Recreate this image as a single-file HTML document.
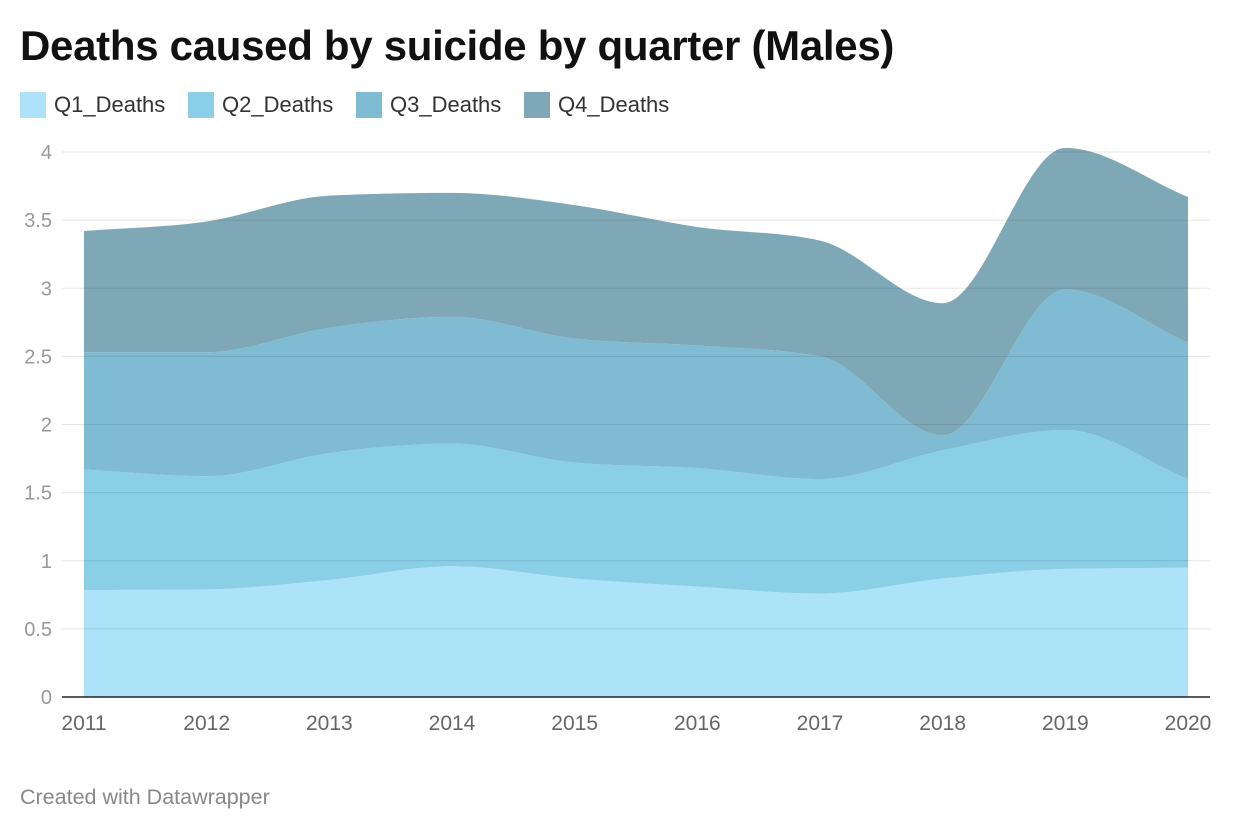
<!DOCTYPE html>
<html><head><meta charset="utf-8"><style>
body{margin:0;background:#fff;font-family:"Liberation Sans",sans-serif;}
#wrap{position:relative;width:1240px;height:840px;}
h1{position:absolute;left:20px;top:22px;margin:0;font-size:42px;font-weight:bold;color:#111;letter-spacing:-0.3px;}
.leg{position:absolute;top:92px;display:flex;align-items:center;font-size:22px;color:#333;}
.sw{width:26px;height:26px;margin-right:8px;}
#foot{position:absolute;left:20px;top:785px;font-size:21.5px;color:#888;}
</style></head><body>
<div id="wrap">
<h1>Deaths caused by suicide by quarter (Males)</h1>
<div class="leg" style="left:20px"><div class="sw" style="background:#ade3f8"></div>Q1_Deaths</div>
<div class="leg" style="left:188px"><div class="sw" style="background:#8acfe6"></div>Q2_Deaths</div>
<div class="leg" style="left:356px"><div class="sw" style="background:#7fbbd3"></div>Q3_Deaths</div>
<div class="leg" style="left:524px"><div class="sw" style="background:#7fa8b6"></div>Q4_Deaths</div>
<svg id="svg" width="1240" height="840" style="position:absolute;left:0;top:0"></svg>
<div id="foot">Created with Datawrapper</div>
</div>
<script>
const years=[2011,2012,2013,2014,2015,2016,2017,2018,2019,2020];
const q1=[0.785,0.79,0.86,0.96,0.87,0.81,0.76,0.87,0.94,0.95];
const q2=[0.885,0.83,0.93,0.90,0.85,0.87,0.84,0.94,1.02,0.65];
const q3=[0.86,0.91,0.92,0.93,0.91,0.90,0.90,0.11,1.03,1.00];
const q4=[0.89,0.96,0.97,0.91,0.98,0.87,0.85,0.97,1.04,1.07];
const yTicks=[0,0.5,1,1.5,2,2.5,3,3.5,4];
const yTickLabels=["0","0.5","1","1.5","2","2.5","3","3.5","4"];
const colors=["#ade3f8","#8acfe6","#7fbbd3","#7fa8b6"];
const NS="http://www.w3.org/2000/svg";
const svg=document.getElementById('svg');
const X=i=>84+(1188-84)*(years[i]-years[0])/(years[years.length-1]-years[0]);
const Y=v=>697-v*136.25;
function mk(t,a){const e=document.createElementNS(NS,t);for(const k in a)e.setAttribute(k,a[k]);svg.appendChild(e);return e;}
function mono(xs,ys){
 const n=xs.length,d=[],m=new Array(n);
 for(let i=0;i<n-1;i++)d.push((ys[i+1]-ys[i])/(xs[i+1]-xs[i]));
 m[0]=d[0];m[n-1]=d[n-2];
 for(let i=1;i<n-1;i++){if(d[i-1]*d[i]<=0)m[i]=0;else{const h0=xs[i]-xs[i-1],h1=xs[i+1]-xs[i];const p=(d[i-1]*h1+d[i]*h0)/(h0+h1);m[i]=Math.sign(d[i])*Math.min(Math.abs(p),2*Math.abs(d[i-1]),2*Math.abs(d[i]));}}
 const s=[];
 for(let i=0;i<n-1;i++){const h=(xs[i+1]-xs[i])/3;s.push(`C${xs[i]+h},${ys[i]+m[i]*h} ${xs[i+1]-h},${ys[i+1]-m[i+1]*h} ${xs[i+1]},${ys[i+1]}`);}
 return s;
}
const series=[q1,q2,q3,q4];
let cum=years.map(()=>0);
const xs=years.map((_,i)=>X(i));
series.forEach((s,k)=>{
 const low=cum.slice();cum=cum.map((c,i)=>c+s[i]);
 const top=cum.map(Y),bot=low.map(Y);
 let d=`M${xs[0]},${top[0]}`+mono(xs,top).join('');
 const rx=xs.slice().reverse(),rb=bot.slice().reverse();
 d+=`L${rx[0]},${rb[0]}`+mono(rx,rb).join('')+'Z';
 const p=mk('path',{d:d,fill:colors[k]});
 
 
});
yTicks.forEach((t,i)=>{
 if(t>0){const g=mk('line',{x1:62,x2:1210,y1:Y(t),y2:Y(t),stroke:'rgba(0,0,0,0.1)','stroke-width':1});
 
 }
 const l=mk('text',{x:52,y:Y(t)+7,'text-anchor':'end','font-size':20,fill:'#999','font-family':'Liberation Sans'});
 l.textContent=yTickLabels[i];
 
 
});
const ax=mk('line',{x1:62,x2:1210,y1:697,y2:697,stroke:'#222','stroke-width':1.5});


years.forEach((yr,i)=>{
 const t=mk('text',{x:X(i),y:730,'text-anchor':'middle','font-size':21,fill:'#666','font-family':'Liberation Sans'});
 t.textContent=yr;
 
 
});
</script>
</body></html>
